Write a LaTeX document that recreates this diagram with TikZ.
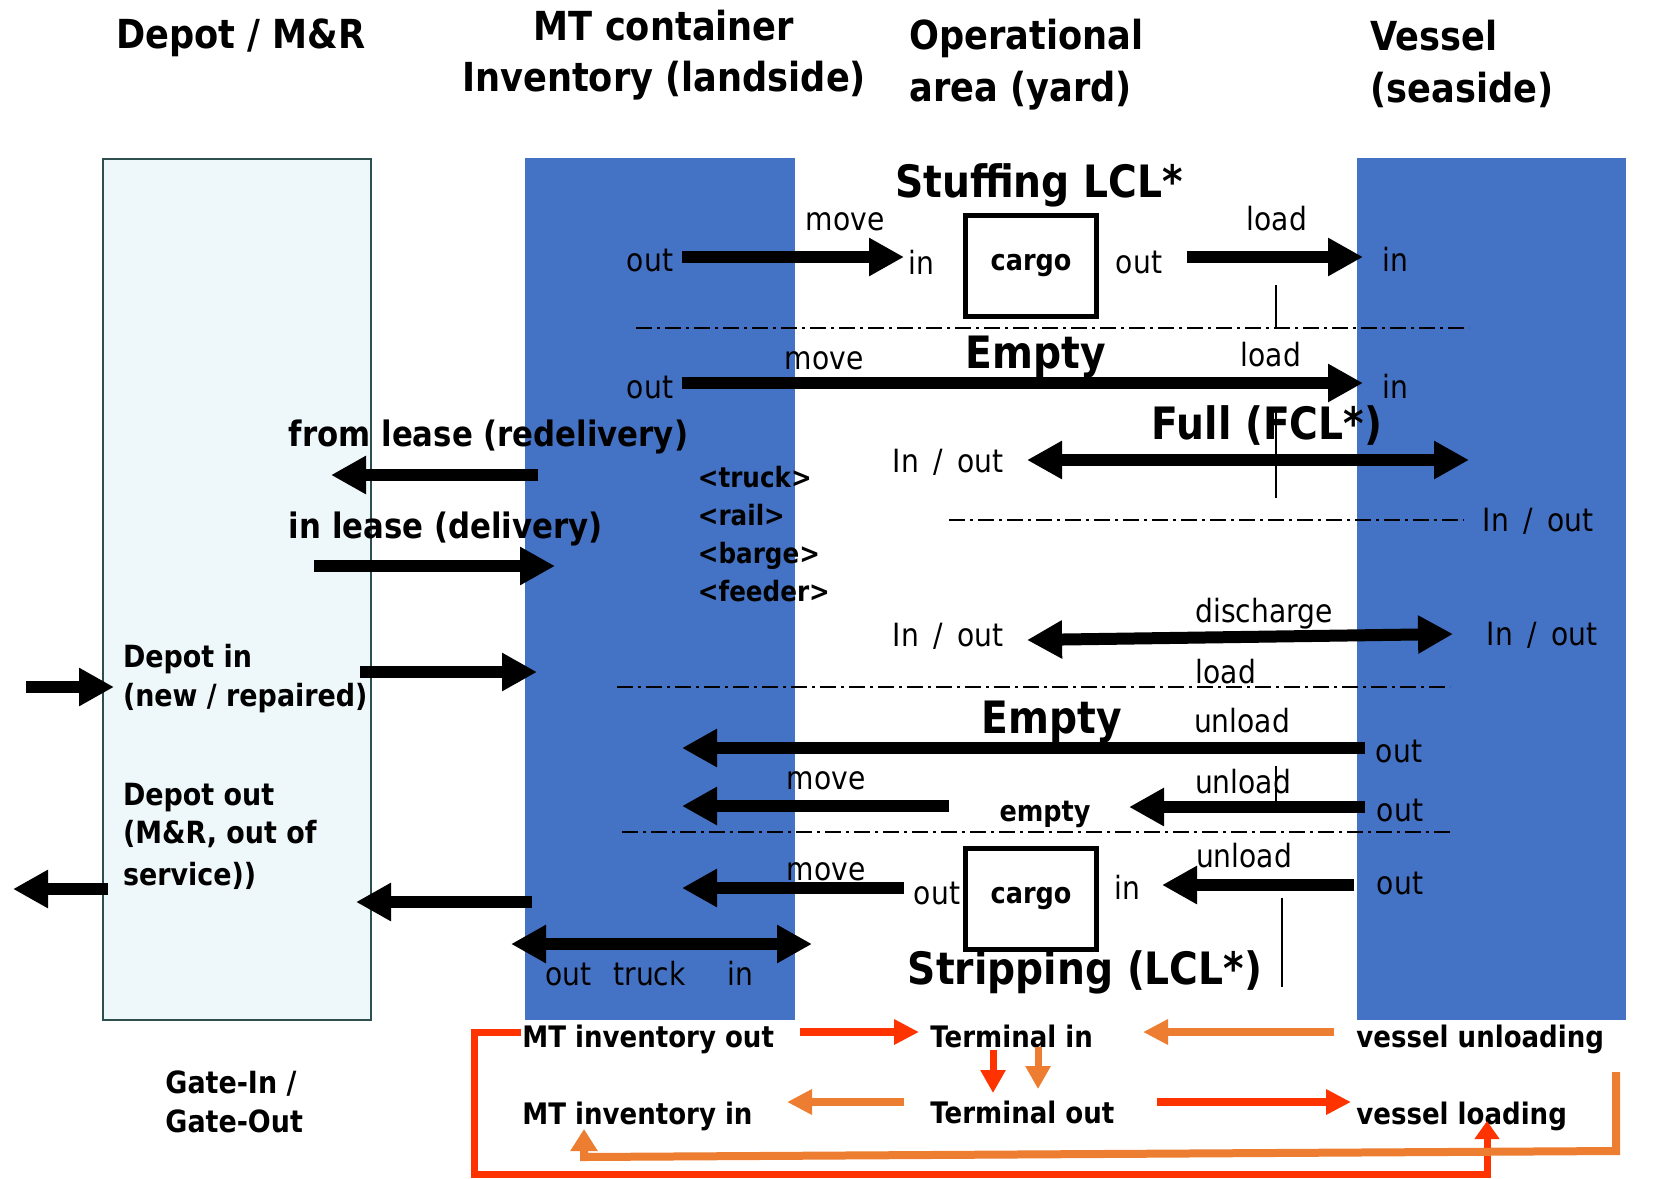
\documentclass[tikz,border=0pt]{standalone}
\usepackage{fontspec}
\setmainfont{DejaVu Sans}[FakeStretch=0.88]
\newfontfamily\lblfont{DejaVu Sans}[FakeStretch=0.88, WordSpace=1.6]
\usetikzlibrary{arrows.meta}
\definecolor{msblue}{HTML}{4472C4}
\definecolor{depotfill}{HTML}{EEF7F9}
\definecolor{depotline}{HTML}{2F4F4F}
\definecolor{lred}{HTML}{FF3300}
\definecolor{lorange}{HTML}{ED7D31}
\begin{document}
\begin{tikzpicture}[x=0.5pt,y=-0.5pt,
  txt/.style={inner sep=0pt, yshift=-3pt},
  lbl/.style={txt, anchor=mid, font=\lblfont\fontsize{16}{19}\selectfont},
  blbl/.style={txt, anchor=mid west, font=\bfseries\fontsize{15.3}{18}\selectfont},
  mlbl/.style={txt, anchor=mid west, font=\bfseries\fontsize{17.5}{21}\selectfont},
  tlbl/.style={txt, anchor=mid west, font=\bfseries\fontsize{14}{17}\selectfont},
  hdr/.style={txt, font=\bfseries\fontsize{20}{24}\selectfont},
  bigl/.style={txt, anchor=mid, font=\bfseries\fontsize{22.3}{26}\selectfont},
  leg/.style={txt, anchor=mid west, font=\bfseries\fontsize{14.8}{17}\selectfont},
  cargobox/.style={draw, line width=2.5pt, minimum width=65.5pt, minimum height=50.5pt, inner sep=0pt, font=\bfseries\fontsize{14.5}{17}\selectfont},
  blk/.style={line width=6pt, -{Triangle[length=17.5pt,width=18pt]}},
  dblk/.style={line width=6pt, {Triangle[length=17.5pt,width=18pt]}-{Triangle[length=17.5pt,width=18pt]}},
  redarr/.style={draw=lred, line width=4pt, -{Triangle[length=12.5pt,width=12pt]}},
  orarr/.style={draw=lorange, line width=4pt, -{Triangle[length=12.5pt,width=12pt]}},
  dashdot/.style={line width=0.75pt, dash pattern=on 8pt off 2.5pt on 1.5pt off 2.5pt},
  thin/.style={line width=0.6pt},
]
\useasboundingbox (0,0) rectangle (1657,1178);

% columns
\filldraw[fill=depotfill, draw=depotline, line width=1pt] (102.5,158.5) rectangle (371,1020);
\fill[msblue] (525,157.5) rectangle (795,1020);
\fill[msblue] (1357,157.5) rectangle (1626,1020);

% headers
\node[hdr,anchor=mid] (hDepot) at (241,37) {Depot / M\&R};
\node[hdr,anchor=mid] (hMT1) at (664,29) {MT container};
\node[hdr,anchor=mid] (hMT2) at (664,80) {Inventory (landside)};
\node[hdr,anchor=mid west] (hOp1) at (909,38) {Operational};
\node[hdr,anchor=mid west] (hOp2) at (909,90) {area (yard)};
\node[hdr,anchor=mid west] (hV1) at (1370,39) {Vessel};
\node[hdr,anchor=mid west] (hV2) at (1370,91) {(seaside)};

% dash-dot separators
\coordinate (d1a) at (636,328); \coordinate (d1b) at (1469,328);
\coordinate (d2a) at (949,520); \coordinate (d2b) at (1464,520);
\coordinate (d3a) at (617,687); \coordinate (d3b) at (1450,687);
\coordinate (d4a) at (622,832); \coordinate (d4b) at (1453,832);
\draw[dashdot] (d1a) -- (d1b);
\draw[dashdot] (d2a) -- (d2b);
\draw[dashdot] (d3a) -- (d3b);
\draw[dashdot] (d4a) -- (d4b);

% stuffing section
\node[bigl] (stuff) at (1039,186) {Stuffing LCL*};
\node[cargobox] (box1) at (1031,266) {cargo};
\node[lbl] (o1) at (650,260) {out};
\node[lbl] (mv1) at (845,219) {move};
\node[lbl] (in1) at (921,263) {in};
\node[lbl] (o2) at (1139,262) {out};
\node[lbl] (ld1) at (1277,219) {load};
\node[lbl] (in2) at (1395,260) {in};

% empty load
\node[bigl] (empty1) at (1036,357) {Empty};
\node[lbl] (mv2) at (824,358) {move};
\node[lbl] (ld2) at (1271,355) {load};
\node[lbl] (o3) at (650,387) {out};
\node[lbl] (in3) at (1395,387) {in};

% full
\node[bigl] (full) at (1267,428) {Full (FCL*)};
\node[lbl] (io1) at (948,461) {In / out};
\node[lbl] (io2) at (1538,520) {In / out};
\node[lbl] (dis) at (1264,611) {discharge};
\node[lbl] (io3) at (948,635) {In / out};
\node[lbl] (io4) at (1542,634) {In / out};
\node[lbl] (ld3) at (1226,672) {load};

% lease
\node[mlbl] (fromlease) at (288.5,435) {from lease (redelivery)};
\node[mlbl] (inlease) at (288.5,527) {in lease (delivery)};
\node[tlbl] (truck) at (697.5,476) {<truck>};
\node[tlbl] (rail) at (697.5,514) {<rail>};
\node[tlbl] (barge) at (697.5,552) {<barge>};
\node[tlbl] (feeder) at (697.5,590) {<feeder>};

% empty unload
\node[bigl] (empty2) at (1051.5,722) {Empty};
\node[lbl] (ul1) at (1242,721) {unload};
\node[lbl] (o4) at (1399,751) {out};
\node[lbl] (mv3) at (826,778) {move};
\node[txt, anchor=mid, font=\bfseries\fontsize{14.5}{17}\selectfont] (empty3) at (1045,810) {empty};
\node[lbl] (ul2) at (1243,782) {unload};
\node[lbl] (o5) at (1400,810) {out};

% stripping
\node[lbl] (mv4) at (826,869) {move};
\node[cargobox] (box2) at (1031,898.5) {cargo};
\node[lbl] (o6) at (937,893) {out};
\node[lbl] (in4) at (1127,888) {in};
\node[lbl] (ul3) at (1244,856) {unload};
\node[lbl] (o7) at (1400,883) {out};
\node[bigl] (strip) at (1085,973) {Stripping (LCL*)};
\node[lbl, anchor=mid west] (otr) at (545,974) {out\hspace{11pt}truck};
\node[lbl] (in5) at (740,974) {in};

% depot texts
\node[blbl] (dep1) at (122.6,656) {Depot in};
\node[blbl] (dep2) at (122.6,695) {(new / repaired)};
\node[blbl] (dep3) at (122.6,794) {Depot out};
\node[blbl] (dep4) at (122.6,832) {(M\&R, out of};
\node[blbl] (dep5) at (122.6,874) {service))};
\node[blbl] (gate1) at (165,1082) {Gate-In /};
\node[blbl] (gate2) at (165,1121) {Gate-Out};

% thin vertical marks
\coordinate (v1a) at (1276,285); \coordinate (v1b) at (1276,327);
\coordinate (v2a) at (1276,410); \coordinate (v2b) at (1276,498);
\coordinate (v3a) at (1276,766); \coordinate (v3b) at (1276,803);
\coordinate (v4a) at (1282,898); \coordinate (v4b) at (1282,987);
\draw[thin] (v1a) -- (v1b);
\draw[thin] (v2a) -- (v2b);
\draw[thin] (v3a) -- (v3b);
\draw[thin] (v4a) -- (v4b);

% black arrows
\coordinate (a1s) at (682,257);  \coordinate (a1e) at (904,257);
\coordinate (a2s) at (1187,257); \coordinate (a2e) at (1363,257);
\coordinate (a3s) at (682,383);  \coordinate (a3e) at (1363,383);
\coordinate (a4s) at (1027,460); \coordinate (a4e) at (1469,460);
\coordinate (a5s) at (538,475);  \coordinate (a5e) at (331,475);
\coordinate (a6s) at (314,566);  \coordinate (a6e) at (555,566);
\coordinate (a7s) at (1027,640); \coordinate (a7e) at (1453,634);
\coordinate (a8s) at (1365,748); \coordinate (a8e) at (682,748);
\coordinate (a9s) at (949,806);  \coordinate (a9e) at (682,806);
\coordinate (a10s) at (1365,807); \coordinate (a10e) at (1129,807);
\coordinate (a11s) at (904,888);  \coordinate (a11e) at (682,888);
\coordinate (a12s) at (1354,885); \coordinate (a12e) at (1162,885);
\coordinate (a13s) at (511,944);  \coordinate (a13e) at (812,944);
\coordinate (a14s) at (26,687);   \coordinate (a14e) at (114,687);
\coordinate (a15s) at (360,672);  \coordinate (a15e) at (537,672);
\coordinate (a16s) at (108,889);  \coordinate (a16e) at (13,889);
\coordinate (a17s) at (532,902);  \coordinate (a17e) at (356,902);
\draw[blk] (a1s) -- (a1e);
\draw[blk] (a2s) -- (a2e);
\draw[blk] (a3s) -- (a3e);
\draw[dblk] (a4s) -- (a4e);
\draw[blk] (a5s) -- (a5e);
\draw[blk] (a6s) -- (a6e);
\draw[dblk] (a7s) -- (a7e);
\draw[blk] (a8s) -- (a8e);
\draw[blk] (a9s) -- (a9e);
\draw[blk] (a10s) -- (a10e);
\draw[blk] (a11s) -- (a11e);
\draw[blk] (a12s) -- (a12e);
\draw[dblk] (a13s) -- (a13e);
\draw[blk] (a14s) -- (a14e);
\draw[blk] (a15s) -- (a15e);
\draw[blk] (a16s) -- (a16e);
\draw[blk] (a17s) -- (a17e);

% legend
\node[leg] (mtout) at (522,1036) {MT inventory out};
\node[leg] (termin) at (930,1036) {Terminal in};
\node[leg] (vunl) at (1356,1036) {vessel unloading};
\node[leg] (mtin) at (522,1113) {MT inventory in};
\node[leg] (termout) at (930,1112) {Terminal out};
\node[leg] (vload) at (1356,1113) {vessel loading};

\coordinate (l1s) at (800,1032);  \coordinate (l1e) at (919,1032);
\coordinate (l2s) at (1334,1032); \coordinate (l2e) at (1143,1032);
\coordinate (l3s) at (904,1102);  \coordinate (l3e) at (787,1102);
\coordinate (l4s) at (1157,1102); \coordinate (l4e) at (1351,1102);
\coordinate (l5s) at (993,1050);  \coordinate (l5e) at (993,1093);
\coordinate (l6s) at (1038,1047); \coordinate (l6e) at (1038,1089);
\draw[redarr] (l1s) -- (l1e);
\draw[orarr] (l2s) -- (l2e);
\draw[orarr] (l3s) -- (l3e);
\draw[redarr] (l4s) -- (l4e);
\draw[draw=lred, line width=3.5pt, -{Triangle[length=11.5pt,width=12pt]}] (l5s) -- (l5e);
\draw[draw=lorange, line width=3.5pt, -{Triangle[length=11.5pt,width=12pt]}] (l6s) -- (l6e);

% loops
\coordinate (r1) at (521,1032); \coordinate (r2) at (474,1032);
\coordinate (r3) at (474,1174); \coordinate (r4) at (1487,1174);
\coordinate (r5) at (1487,1121);
\draw[draw=lred, line width=3.5pt, line join=miter, -{Triangle[length=9pt,width=12pt]}]
  (r1) -- (r2) -- (r3) -- (r4) -- (r5);
\coordinate (o1a) at (1616,1072); \coordinate (o1b) at (1616,1151);
\coordinate (o1c) at (584,1157); \coordinate (o1d) at (584,1129);
\draw[draw=lorange, line width=4pt, line join=miter, -{Triangle[length=11pt,width=13pt]}]
  (o1a) -- (o1b) -- (o1c) -- (o1d);
\end{tikzpicture}
\end{document}
